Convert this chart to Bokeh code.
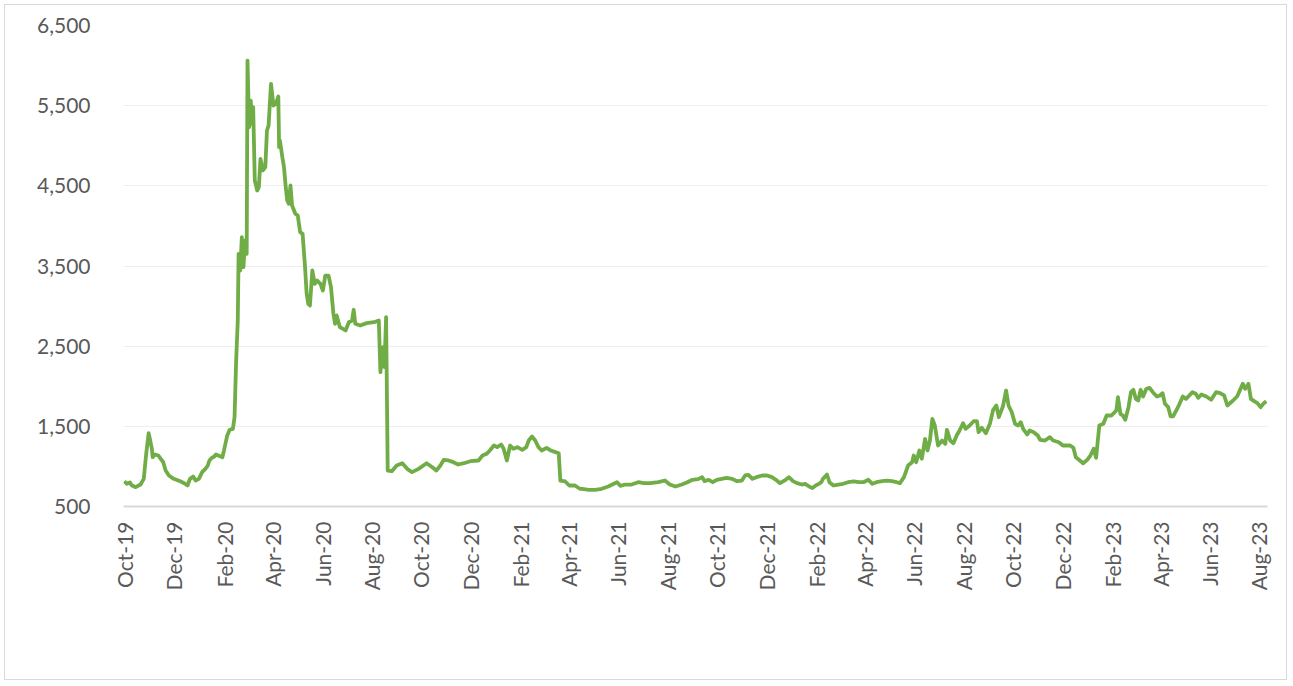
import numpy as np
from bokeh.plotting import figure
from bokeh.models import FixedTicker, NumeralTickFormatter, DatetimeTickFormatter, Range1d, ColumnDataSource
from bokeh.embed import file_html
from bokeh.resources import INLINE

# ---- data ----
start_date = "2019-10-01"
days = [0, 3, 7, 9, 14, 20, 24, 27, 30, 32, 34, 35, 38, 42, 45, 48, 51, 55, 61, 69, 74, 78, 81, 85, 88, 92,
        96, 100, 103, 105, 108, 111, 113, 116, 121, 123, 127, 130, 134, 136, 138,
        140, 141, 143, 145, 147, 149, 151, 152, 154, 156, 158, 159, 161, 164, 166, 168, 171, 174, 176, 178,
        181, 184, 187, 190, 191, 192, 195, 197, 199, 201, 203, 205, 207, 211, 214, 217, 220, 223, 225, 227,
        229, 232, 235, 238, 242, 245, 248, 252, 255, 258, 260, 262, 266, 273, 277, 281, 283, 285, 291, 299,
        308, 314, 316, 319, 321, 323, 325,
        330, 336, 343, 349, 355, 363, 373, 380, 385, 390, 394, 400, 406, 412, 419, 427, 437, 442, 447, 451,
        456, 460, 465, 468, 472, 476, 480, 485, 491, 496, 499, 503, 507, 511, 515, 521, 526, 532, 536, 538,
        544, 549, 556, 562,
        565, 573, 581, 589, 597, 604, 608, 612, 618, 626, 634, 641, 649, 659, 667, 673, 680, 688, 694, 701,
        708, 713, 716, 721, 726, 731, 737, 743, 750, 756, 762, 766, 770, 775, 780, 787, 793, 799, 804, 809,
        816, 820, 825, 830, 836, 840, 845, 849, 853, 857, 860, 862, 867, 870, 875, 881, 887, 893, 900, 906,
        912, 918, 923, 928, 935, 941, 947, 953, 957,
        962, 967, 972, 974, 977, 981, 984, 988, 991, 994, 997, 1000, 1004, 1009, 1013, 1015, 1019, 1023,
        1027, 1031, 1035, 1038, 1043, 1048, 1052, 1054, 1058, 1063, 1068, 1072, 1076, 1079, 1084, 1088,
        1091, 1095, 1099, 1103, 1106, 1109, 1114, 1117, 1122, 1127, 1130, 1136, 1142, 1146, 1153, 1158, 1163,
        1167, 1171, 1174, 1179, 1183, 1188, 1192, 1196, 1199, 1203, 1208, 1212, 1218, 1224, 1226, 1229,
        1232, 1235, 1239, 1242, 1245, 1248, 1251, 1254, 1257, 1261, 1265, 1269, 1274, 1278, 1281, 1284,
        1288, 1291, 1294, 1298, 1302, 1306, 1310, 1314, 1318, 1322, 1325, 1329, 1335, 1341, 1347, 1352,
        1357, 1361, 1368, 1373, 1376, 1380, 1383, 1387, 1390, 1394, 1398, 1402, 1406, 1409]
values = [815, 783, 800, 766, 741, 774, 845, 1157, 1414, 1323, 1220, 1115, 1149, 1136, 1095, 1053, 949, 887,
          845, 815, 791, 762, 845, 874, 824, 845, 928, 970, 1011, 1074, 1107, 1124, 1149, 1136, 1115, 1199,
          1386, 1457, 1469, 1614, 2321,
          2820, 3652, 3444, 3859, 3485, 3818, 3652, 6063, 5231, 5564, 5273, 5481, 4567, 4442, 4483, 4837,
          4692, 4733, 5190, 5252, 5773, 5502, 5523, 5614, 4982, 5065, 4857, 4733, 4504, 4317, 4276, 4504,
          4255, 4151, 4130, 3922, 3901, 3485, 3153, 3028, 3007, 3444, 3278, 3319, 3278, 3194, 3381, 3381,
          3236, 2904, 2779, 2883, 2737, 2696, 2799, 2820, 2954, 2779, 2758, 2787, 2799, 2820, 2175, 2487,
          2238, 2862, 949,
          940, 1011, 1040, 970, 928, 970, 1040, 990, 949, 1011, 1082, 1074, 1053, 1024, 1040, 1065, 1074,
          1136, 1157, 1199, 1261, 1240, 1273, 1220, 1074, 1261, 1220, 1240, 1207, 1240, 1323, 1373, 1323,
          1240, 1199, 1232, 1199, 1178, 1165, 824, 812, 762, 762, 721,
          721, 708, 708, 721, 749, 783, 803, 758, 774, 774, 803, 791, 791, 803, 824, 774, 749, 774, 799, 833,
          841, 866, 816, 833, 803, 833, 845, 858, 845, 816, 824, 887, 895, 845, 866, 887, 887, 866, 833, 791,
          833, 866, 816, 791, 774, 783, 749, 729, 762, 783, 803, 845, 899, 803, 762, 774, 783, 803, 812, 803,
          803, 833, 783, 803, 816, 824, 816, 803, 791,
          866, 1011, 1053, 1136, 1053, 1199, 1095, 1344, 1199, 1323, 1594, 1511, 1261, 1323, 1282, 1457,
          1323, 1290, 1386, 1457, 1539, 1469, 1511, 1564, 1564, 1427, 1482, 1415, 1532, 1706, 1760, 1614,
          1747, 1947, 1760, 1676, 1532, 1511, 1552, 1469, 1398, 1448, 1427, 1386, 1332, 1323, 1365, 1323,
          1302, 1261, 1261,
          1261, 1232, 1115, 1074, 1040, 1082, 1136, 1220, 1107, 1511, 1532, 1635, 1635, 1698, 1864, 1656,
          1635, 1581, 1739, 1926, 1956, 1843, 1822, 1956, 1872, 1968, 1980, 1926, 1872, 1885, 1914, 1781,
          1739, 1623, 1623, 1698, 1781, 1872, 1843, 1885, 1926, 1906, 1856, 1897, 1872, 1831, 1926, 1914,
          1885, 1760, 1822, 1872, 1939, 2030, 1968, 2030, 1843, 1814, 1789, 1739, 1789, 1814]
tick_dates = ["2019-10-01", "2019-12-01", "2020-02-01", "2020-04-01", "2020-06-01", "2020-08-01",
              "2020-10-01", "2020-12-01", "2021-02-01", "2021-04-01", "2021-06-01", "2021-08-01",
              "2021-10-01", "2021-12-01", "2022-02-01", "2022-04-01", "2022-06-01", "2022-08-01",
              "2022-10-01", "2022-12-01", "2023-02-01", "2023-04-01", "2023-06-01", "2023-08-01"]
y_ticks = [500, 1500, 2500, 3500, 4500, 5500, 6500]

# ---- build ----
dates = np.datetime64(start_date) + np.array(days).astype("timedelta64[D]")
src = ColumnDataSource(dict(date=dates, value=values))

def ms(d):
    return float(np.datetime64(d, "ms").astype("int64"))

x0 = ms(start_date) - 1 * 86400000
x1 = ms(start_date) + (days[-1] + 1.5) * 86400000

FONT = "Lato"
p = figure(width=1283, height=676, output_backend="svg", toolbar_location=None,
           x_axis_type="datetime", x_range=Range1d(x0, x1), y_range=Range1d(500, 6500),
           min_border_left=118, min_border_right=21, min_border_top=20, min_border_bottom=175)
p.styles = {"margin-left": "4px", "margin-top": "4px", "border": "1px solid #d9d9d9"}
p.outline_line_color = None
p.background_fill_color = "white"
p.border_fill_color = "white"

p.line("date", "value", source=src, line_color="#70AD47", line_width=3.8, line_join="round")

p.xgrid.visible = False
p.ygrid.grid_line_color = "#eeeeee"
p.ygrid.grid_line_width = 1
p.ygrid.ticker = FixedTicker(ticks=y_ticks)

p.yaxis.ticker = FixedTicker(ticks=y_ticks)
p.yaxis.formatter = NumeralTickFormatter(format="0,0")
p.yaxis.axis_line_color = None
p.yaxis.major_tick_line_color = None
p.yaxis.minor_tick_line_color = None
p.yaxis.major_label_text_font = FONT
p.yaxis.major_label_text_font_size = "21px"
p.yaxis.major_label_text_color = "#595959"
p.yaxis.major_label_standoff = 27

p.xaxis.ticker = FixedTicker(ticks=[ms(d) for d in tick_dates])
fmt = "%b-%y"
p.xaxis.formatter = DatetimeTickFormatter(days=fmt, months=fmt, years=fmt, hours=fmt,
                                          minutes=fmt, seconds=fmt, milliseconds=fmt,
                                          microseconds=fmt, hourmin=fmt, minsec=fmt)
p.xaxis.axis_line_color = "#d9d9d9"
p.xaxis.axis_line_width = 2
p.xaxis.major_tick_line_color = None
p.xaxis.minor_tick_line_color = None
p.xaxis.major_label_orientation = np.pi / 2
p.xaxis.major_label_text_font = FONT
p.xaxis.major_label_text_font_size = "21px"
p.xaxis.major_label_text_color = "#595959"
p.xaxis.major_label_standoff = 9

open("out.html", "w").write(file_html(p, INLINE))
